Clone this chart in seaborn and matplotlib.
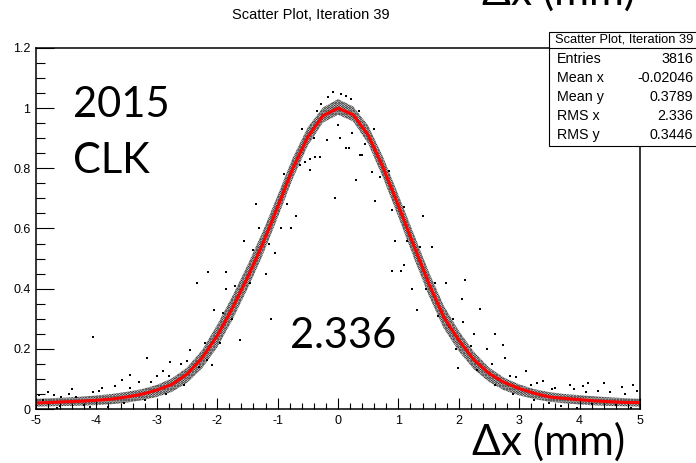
import matplotlib
matplotlib.use("Agg")
import matplotlib.pyplot as plt
from matplotlib.patches import Rectangle
from matplotlib.lines import Line2D
from matplotlib.ticker import MultipleLocator
import seaborn as sns

W, H = 696, 463

# fitted residual profile
fit_x = [-5.0, -4.75, -4.5, -4.25, -4.0, -3.75, -3.5, -3.25, -3.0, -2.75, -2.5,
         -2.25, -2.0, -1.75, -1.5, -1.25, -1.0, -0.75, -0.5, -0.25, 0.0,
         0.25, 0.5, 0.75, 1.0, 1.25, 1.5, 1.75, 2.0, 2.25, 2.5,
         2.75, 3.0, 3.25, 3.5, 3.75, 4.0, 4.25, 4.5, 4.75, 5.0]
fit_y = [0.020, 0.022, 0.024, 0.026, 0.029, 0.033, 0.040, 0.049, 0.063, 0.082, 0.116,
         0.170, 0.244, 0.335, 0.437, 0.548, 0.672, 0.800, 0.905, 0.975, 1.000,
         0.978, 0.910, 0.800, 0.675, 0.545, 0.418, 0.305, 0.228, 0.163, 0.118,
         0.088, 0.068, 0.052, 0.040, 0.035, 0.031, 0.027, 0.024, 0.022, 0.021]

# lower / upper edge of the dense event cloud along the profile
band_x = fit_x
band_lo = [0.008, 0.009, 0.010, 0.011, 0.013, 0.016, 0.021, 0.029, 0.040, 0.057, 0.087,
           0.135, 0.205, 0.295, 0.398, 0.510, 0.635, 0.765, 0.875, 0.952, 0.978,
           0.956, 0.882, 0.766, 0.638, 0.505, 0.378, 0.268, 0.192, 0.132, 0.090,
           0.062, 0.045, 0.033, 0.024, 0.019, 0.015, 0.012, 0.010, 0.009, 0.008]
band_hi = [0.034, 0.036, 0.038, 0.041, 0.045, 0.050, 0.057, 0.066, 0.080, 0.102, 0.138,
           0.196, 0.280, 0.375, 0.478, 0.588, 0.710, 0.835, 0.937, 1.002, 1.030,
           1.006, 0.942, 0.836, 0.712, 0.585, 0.458, 0.344, 0.260, 0.190, 0.138,
           0.104, 0.082, 0.066, 0.056, 0.050, 0.046, 0.042, 0.039, 0.036, 0.034]

# individual events around and away from the main band
pts_x = [-0.08, 0.05, 0.13, -0.17, 0.22, -0.28,
         0.03, -0.19, -0.38, -0.30, -0.46, 0.14, 0.19, 0.36, 0.40, 0.23, -0.63, -0.46,
         0.56, 0.00, -0.05, 0.30, -0.70, -0.78, 0.62, 0.95,
         -2.15, -1.86, -2.34, -1.86, -1.11, -4.05, -3.16, -1.62, -2.45, -2.78, -3.58,
         -3.44, -2.09, -2.17, -1.35, -1.55, -1.20, -1.05, -0.95, -2.60, -3.00, -2.90,
         -3.30, -1.75, -2.05,
         0.90, 1.04, 1.09, 1.23, 2.10, 2.05, 2.35, 2.74, 2.46, 2.76, 3.12, 3.40, 3.84,
         4.14, 4.70, 4.88, 1.98, 1.79, 1.83, 2.07, 1.40, 1.55, 1.30, 2.25, 2.95, 3.30,
         2.60,
         -4.80, -4.71, -4.58, -4.89, -4.33, -4.05, -3.90, -3.70, -4.40, -4.60, -4.20,
         -3.80, 3.60, 3.90, 4.30, 4.50, 4.95, 4.60, 4.20, 3.70, 4.40, 4.05,
         -1.95, -1.90, -1.70, -1.45, -1.40, -1.30, -1.15, -0.90, -0.85, -0.60, -0.55,
         -0.35, -0.40, 0.35, 0.45, 0.60, 0.70, 0.85, 0.90, 1.10, 1.15, 1.35, 1.45,
         1.60, 1.65, 1.90, 1.95, 2.20, 2.30, 2.55, 2.60, 2.85, 2.90, 3.20, 3.25,
         3.55, 3.50, -2.20, -2.30, -2.50, -2.55, -2.80, -2.85, -3.10, -3.20, -3.45,
         -3.55, -3.95, -4.10, -4.45, -4.95, -4.65, 4.75, 4.85, 4.10, 3.95]
pts_y = [1.054, 1.046, 1.040, 1.036, 1.030, 1.015,
         0.900, 0.894, 0.838, 0.838, 0.830, 0.866, 0.866, 0.844, 0.844, 0.916, 0.810, 0.794,
         0.788, 0.944, 0.700, 0.760, 0.640, 0.600, 0.690, 0.560,
         0.456, 0.456, 0.420, 0.400, 0.300, 0.240, 0.170, 0.230, 0.196, 0.157, 0.096,
         0.113, 0.146, 0.163, 0.680, 0.560, 0.450, 0.520, 0.600, 0.150, 0.110, 0.125,
         0.090, 0.300, 0.330,
         0.458, 0.458, 0.480, 0.400, 0.430, 0.364, 0.331, 0.213, 0.200, 0.168, 0.127, 0.094, 0.080,
         0.085, 0.072, 0.080, 0.135, 0.418, 0.273, 0.290, 0.640, 0.540, 0.330, 0.250, 0.105, 0.085,
         0.250,
         0.058, 0.047, 0.039, 0.030, 0.041, 0.058, 0.070, 0.075, 0.065, 0.010, 0.012,
         0.006, 0.070, 0.065, 0.060, 0.055, 0.060, 0.012, 0.015, 0.010, 0.085, 0.075,
         0.220, 0.320, 0.410, 0.420, 0.530, 0.600, 0.550, 0.780, 0.680, 0.930, 0.820,
         0.990, 0.900, 0.990, 0.880, 0.930, 0.770, 0.790, 0.660, 0.670, 0.560, 0.540, 0.400,
         0.420, 0.310, 0.300, 0.200, 0.210, 0.130, 0.150, 0.080, 0.110, 0.050, 0.080, 0.030,
         0.065, 0.020, 0.220, 0.140, 0.160, 0.080, 0.110, 0.050, 0.090, 0.030, 0.070,
         0.020, 0.060, 0.005, 0.050, 0.045, 0.002, 0.050, 0.004, 0.055, 0.004]

x_ticks = [-5, -4, -3, -2, -1, 0, 1, 2, 3, 4, 5]
x_tick_labels = ["-5", "-4", "-3", "-2", "-1", "0", "1", "2", "3", "4", "5"]
y_ticks = [0.0, 0.2, 0.4, 0.6, 0.8, 1.0, 1.2]
y_tick_labels = ["0", "0.2", "0.4", "0.6", "0.8", "1", "1.2"]

stats_title = "Scatter Plot, Iteration 39"
stats_names = ["Entries", "Mean x", "Mean y", "RMS x", "RMS y"]
stats_values = ["3816", "-0.02046", "0.3789", "2.336", "0.3446"]

sns.set_theme(style="white")
plt.rcParams["font.family"] = ["Liberation Sans", "DejaVu Sans"]
plt.rcParams["hatch.linewidth"] = 1.5
plt.rcParams["hatch.color"] = "black"

fig = plt.figure(figsize=(W / 100, H / 100), dpi=100)
fig.patch.set_facecolor("white")


def fx(px):
    return px / W


def fy(py):
    return 1 - py / H


ax = fig.add_axes([fx(36), fy(409), (640 - 36) / W, (409 - 48) / H])
ax.set_facecolor("white")

# dense cloud of events as a stippled band
ax.fill_between(band_x, band_lo, band_hi, facecolor="none", edgecolor="black",
                hatch="......", linewidth=0)
sns.scatterplot(x=pts_x, y=pts_y, ax=ax, marker="s", s=2.2, color="black",
                linewidth=0)
sns.lineplot(x=fit_x, y=fit_y, ax=ax, color="red", linewidth=2.2, sort=False)

ax.set_xlim(-5, 5)
ax.set_ylim(0, 1.2)
ax.set_xticks(x_ticks)
ax.set_xticklabels(x_tick_labels)
ax.set_yticks(y_ticks)
ax.set_yticklabels(y_tick_labels)
ax.xaxis.set_minor_locator(MultipleLocator(0.2))
ax.yaxis.set_minor_locator(MultipleLocator(0.05))
ax.tick_params(which="both", direction="in", bottom=True, left=True, top=False,
               right=False, color="black", labelcolor="black", labelsize=9,
               width=0.8)
ax.tick_params(axis="x", which="major", length=8, pad=4)
ax.tick_params(axis="x", which="minor", length=4)
ax.tick_params(axis="y", which="major", length=13, pad=4)
ax.tick_params(axis="y", which="minor", length=6.5)
ax.set_xlabel("")
ax.set_ylabel("")
for sp in ax.spines.values():
    sp.set_visible(True)
    sp.set_color("black")
    sp.set_linewidth(1.1)

# plot title
fig.text(fx(311), fy(15), stats_title, ha="center", va="center", fontsize=10.5,
         color="black")

# large annotations
big = dict(family=["Lato", "DejaVu Sans"], fontsize=30, color="black",
           va="baseline", ha="left")
fig.text(fx(73), fy(117), "2015", **big)
fig.text(fx(73), fy(173), "CLK", **big)
fig.text(fx(290), fy(348), stats_values[3], **big)
axis_big = dict(big, fontsize=30.5)
fig.text(fx(472), fy(455), "Δx (mm)", **axis_big)
fig.text(fx(482), fy(5), "Δx (mm)", **axis_big)

# statistics box
box_l, box_r, box_t, box_b, sep = 549, 700, 32, 146, 48
fig.add_artist(Rectangle((fx(box_l), fy(box_b)), (box_r - box_l) / W,
                         (box_b - box_t) / H, transform=fig.transFigure,
                         facecolor="white", edgecolor="black", linewidth=0.8,
                         zorder=5))
fig.add_artist(Line2D([fx(box_l), fx(box_r)], [fy(sep), fy(sep)],
                      transform=fig.transFigure, color="black", linewidth=0.8,
                      zorder=6))
fig.text(fx((box_l + box_r) / 2), fy(40), stats_title, ha="center", va="center",
         fontsize=9.3, color="black", zorder=7)
for i, (name, val) in enumerate(zip(stats_names, stats_values)):
    yc = 59 + i * 19
    fig.text(fx(557), fy(yc), name, ha="left", va="center", fontsize=10.3,
             color="black", zorder=7)
    fig.text(fx(693), fy(yc), val, ha="right", va="center", fontsize=10.3,
             color="black", zorder=7)

fig.savefig("out.png", dpi=100)
